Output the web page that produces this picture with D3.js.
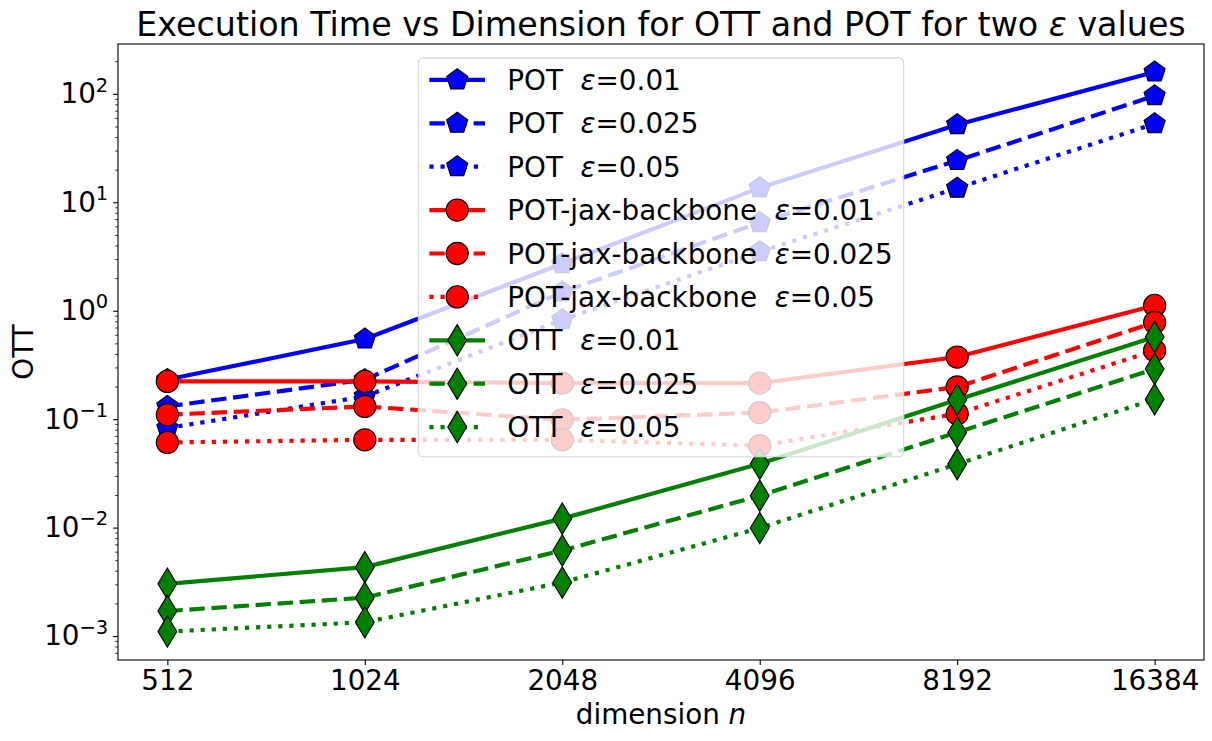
<!DOCTYPE html>
<html>
<head>
<meta charset="utf-8">
<script src="https://cdn.jsdelivr.net/npm/d3@7"></script>
<style>
  body { margin: 0; background: #fff; }
  text { font-family: "DejaVu Sans", sans-serif; }
</style>
</head>
<body>
<script>
'use strict';

// data (seconds)
const dims = [512, 1024, 2048, 4096, 8192, 16384];

const potE01  = [0.232, 0.548, 2.71, 13.6, 52, 159];
const potE025 = [0.131, 0.231, 1.49, 6.5, 24.3, 96];
const potE05  = [0.0828, 0.162, 0.826, 3.5, 13.5, 53];

const jaxE01  = [0.223, 0.223, 0.215, 0.215, 0.374, 1.12];
const jaxE025 = [0.11, 0.131, 0.0987, 0.115, 0.198, 0.78];
const jaxE05  = [0.061, 0.0645, 0.0645, 0.0569, 0.112, 0.43];

const ottE01  = [0.00303, 0.00432, 0.0121, 0.0388, 0.151, 0.572];
const ottE025 = [0.0017, 0.00226, 0.00615, 0.0197, 0.0755, 0.29];
const ottE05  = [0.0011, 0.00134, 0.00312, 0.0099, 0.0385, 0.153];

const labels = [
  'POT', 'POT', 'POT',
  'POT-jax-backbone', 'POT-jax-backbone', 'POT-jax-backbone',
  'OTT', 'OTT', 'OTT'
];
const epsLabels = ['0.01', '0.025', '0.05', '0.01', '0.025', '0.05', '0.01', '0.025', '0.05'];
const yExponents = [-3, -2, -1, 0, 1, 2];

const seriesValues = [potE01, potE025, potE05, jaxE01, jaxE025, jaxE05, ottE01, ottE025, ottE05];

const W = 1212, H = 741;
const pLeft = 118, pRight = 1204, pTop = 44, pBottom = 660;

const colors  = { pot: '#0000ff', jax: '#ff0000', ott: '#008000' };
const dashes  = ['none', '15.4,6.7', '4.2,6.9'];
const lineW   = 4.17;
const mSize   = 22.2;

const tickFont   = 27.8;
const labelFont  = 27.8;
const titleFont  = 33.3;
const legendFont = 27.8;

const svg = d3.select('body').append('svg')
  .attr('width', W).attr('height', H)
  .attr('viewBox', `0 0 ${W} ${H}`);

const x = d3.scaleLog().base(2)
  .domain([512 / Math.pow(2, 0.25), 16384 * Math.pow(2, 0.25)])
  .range([pLeft, pRight]);

const y = d3.scaleLog()
  .domain([Math.pow(10, -3.221), Math.pow(10, 2.46)])
  .range([pBottom, pTop]);

// marker shapes
function pentagon(r) {
  const pts = d3.range(5).map((k) => {
    const a = -Math.PI / 2 + k * 2 * Math.PI / 5;
    return [r * Math.cos(a), r * Math.sin(a)];
  });
  return 'M' + pts.map((p) => p.join(',')).join('L') + 'Z';
}
function circle(r) {
  return `M${r},0A${r},${r} 0 1,1 ${-r},0A${r},${r} 0 1,1 ${r},0Z`;
}
function thinDiamond(r) {
  const h = r * Math.SQRT2, w = h * 0.6;
  return `M0,${-h}L${w},0L0,${h}L${-w},0Z`;
}

const groups = [
  { color: colors.pot, shape: pentagon(mSize / 2) },
  { color: colors.jax, shape: circle(mSize / 2) },
  { color: colors.ott, shape: thinDiamond(mSize / 2) }
];

function styleOf(i) {
  const g = groups[Math.floor(i / 3)];
  return { color: g.color, shape: g.shape, dash: dashes[i % 3] };
}

// minor y ticks
const minors = [];
for (let e = -4; e <= 2; e++) {
  for (let m = 2; m <= 9; m++) {
    const v = m * Math.pow(10, e);
    if (v > y.domain()[0] && v < y.domain()[1]) minors.push(v);
  }
}

svg.append('g')
  .attr('transform', `translate(${pLeft},0)`)
  .call(d3.axisLeft(y).tickValues(minors).tickSize(2.8).tickFormat(''))
  .call((g) => g.select('.domain').remove())
  .selectAll('line').attr('stroke-width', 0.8);

const yAxis = svg.append('g')
  .attr('transform', `translate(${pLeft},0)`)
  .call(d3.axisLeft(y)
    .tickValues(yExponents.map((e) => Math.pow(10, e)))
    .tickSize(4.9).tickPadding(4.9).tickFormat(''));
yAxis.select('.domain').remove();
yAxis.selectAll('line').attr('stroke-width', 1.1);
yAxis.selectAll('text')
  .attr('font-size', tickFont)
  .attr('fill', '#000')
  .each(function (d) {
    const t = d3.select(this);
    const e = Math.round(Math.log10(d));
    t.append('tspan').text('10');
    t.append('tspan')
      .attr('font-size', tickFont * 0.7)
      .attr('dy', -tickFont * 0.42)
      .text(e < 0 ? '\u2212' + (-e) : String(e));
  });

const xAxis = svg.append('g')
  .attr('transform', `translate(0,${pBottom})`)
  .call(d3.axisBottom(x).tickValues(dims).tickSize(4.9).tickPadding(4.9)
    .tickFormat(d3.format('d')));
xAxis.select('.domain').remove();
xAxis.selectAll('line').attr('stroke-width', 1.1);
xAxis.selectAll('text').attr('font-size', tickFont).attr('fill', '#000');

// lines and markers
svg.append('clipPath').attr('id', 'plot')
  .append('rect').attr('x', pLeft).attr('y', pTop)
  .attr('width', pRight - pLeft).attr('height', pBottom - pTop);

const line = d3.line().x((d, i) => x(dims[i])).y((d) => y(d));

const plot = svg.append('g').attr('clip-path', 'url(#plot)');
seriesValues.forEach((vals, i) => {
  const s = styleOf(i);
  plot.append('path')
    .attr('d', line(vals))
    .attr('fill', 'none')
    .attr('stroke', s.color)
    .attr('stroke-width', lineW)
    .attr('stroke-dasharray', s.dash)
    .attr('stroke-linejoin', 'round');
  plot.selectAll(null).data(vals).enter().append('path')
    .attr('d', s.shape)
    .attr('transform', (d, j) => `translate(${x(dims[j])},${y(d)})`)
    .attr('fill', s.color)
    .attr('stroke', '#000')
    .attr('stroke-width', 1.1);
});

// frame
svg.append('rect')
  .attr('x', pLeft).attr('y', pTop)
  .attr('width', pRight - pLeft).attr('height', pBottom - pTop)
  .attr('fill', 'none').attr('stroke', '#000').attr('stroke-width', 1.1);

// legend
const pad = legendFont * 0.4;
const handleLen = legendFont * 2.0;
const textPad = legendFont * 0.8;
const rowH = 43.4;

const legend = svg.append('g');
const box = legend.append('rect');
const rows = legend.selectAll('g.row').data(labels).enter().append('g')
  .attr('class', 'row');

const txt = rows.append('text')
  .attr('font-size', legendFont)
  .attr('dy', '0.36em')
  .style('white-space', 'pre');
txt.append('tspan').text((d) => d + '  ');
txt.append('tspan').attr('font-style', 'italic').text('\u03b5');
txt.append('tspan').text((d, i) => '=' + epsLabels[i]);

let maxW = 0;
txt.each(function () { maxW = Math.max(maxW, this.getComputedTextLength()); });

const boxW = pad * 2 + handleLen + textPad + maxW;
const boxH = pad * 2 + rowH * labels.length - 14;
const boxX = (pLeft + pRight) / 2 - boxW / 2;
const boxY = pTop + legendFont * 0.5;

box.attr('x', boxX).attr('y', boxY)
  .attr('width', boxW).attr('height', boxH)
  .attr('rx', 5)
  .attr('fill', '#fff').attr('fill-opacity', 0.8)
  .attr('stroke', '#d6d6d6').attr('stroke-width', 1.1);

rows.attr('transform', (d, i) =>
  `translate(${boxX + pad},${boxY + 22 + i * rowH})`);
txt.attr('x', handleLen + textPad);

rows.each(function (d, i) {
  const s = styleOf(i);
  const r = d3.select(this);
  r.insert('line', 'text')
    .attr('x1', 0).attr('x2', handleLen)
    .attr('stroke', s.color).attr('stroke-width', lineW)
    .attr('stroke-dasharray', s.dash);
  r.insert('path', 'text')
    .attr('d', s.shape)
    .attr('transform', `translate(${handleLen / 2},0)`)
    .attr('fill', s.color).attr('stroke', '#000').attr('stroke-width', 1.1);
});

// labels
const xl = svg.append('text')
  .attr('x', (pLeft + pRight) / 2).attr('y', 724)
  .attr('text-anchor', 'middle').attr('font-size', labelFont);
xl.append('tspan').text('dimension ');
xl.append('tspan').attr('font-style', 'italic').text('n');

svg.append('text')
  .attr('transform', `translate(33,${(pTop + pBottom) / 2}) rotate(-90)`)
  .attr('text-anchor', 'middle').attr('font-size', labelFont)
  .text('OTT');

const title = svg.append('text')
  .attr('x', (pLeft + pRight) / 2).attr('y', 36)
  .attr('text-anchor', 'middle').attr('font-size', titleFont)
  .style('white-space', 'pre');
title.append('tspan').text('Execution Time vs Dimension for OTT and POT for two ');
title.append('tspan').attr('font-style', 'italic').text('\u03b5');
title.append('tspan').text(' values');
</script>
</body>
</html>
